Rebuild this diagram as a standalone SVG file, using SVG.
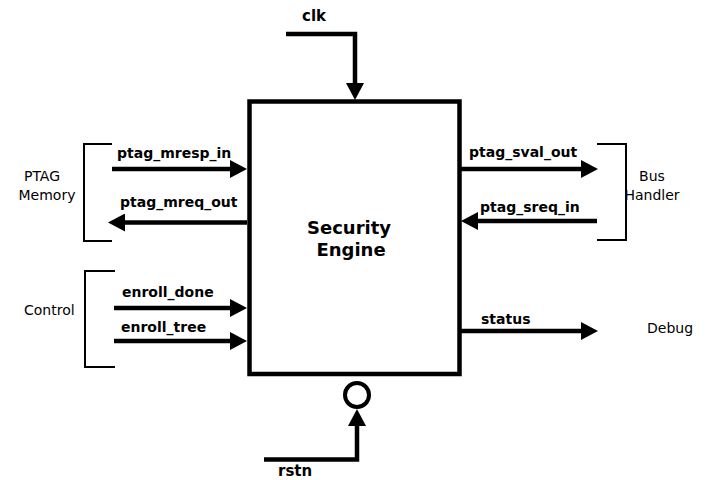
<svg xmlns="http://www.w3.org/2000/svg" width="707" height="480" viewBox="0 0 707 480">
  <style>
    .sig { font-family: "DejaVu Sans", Verdana, sans-serif; font-size: 14px; font-weight: bold; fill: #000; }
    .port { font-family: "DejaVu Sans", Verdana, sans-serif; font-size: 15px; font-weight: bold; fill: #000; }
    .grp { font-family: "DejaVu Sans", Verdana, sans-serif; font-size: 14px; fill: #000; }
    .title { font-family: "DejaVu Sans", Verdana, sans-serif; font-size: 18px; font-weight: bold; fill: #000; text-anchor: middle; }
    .wire { fill: none; stroke: #000; stroke-width: 4.5; }
    .bracket { fill: none; stroke: #000; stroke-width: 2; }
  </style>
  <defs>
    <marker id="head" markerUnits="userSpaceOnUse" markerWidth="18" markerHeight="18" refX="1" refY="9" orient="auto">
      <path d="M0,0 L17,9 L0,18 Z" fill="#000"/>
    </marker>
  </defs>

  <rect width="707" height="480" fill="#fff"/>

  <!-- main block -->
  <g id="security-engine">
    <rect x="249.5" y="101.5" width="210" height="272.5" fill="#fff" stroke="#000" stroke-width="4.5"/>
    <text class="title" x="349" y="234">Security</text>
    <text class="title" x="351" y="256">Engine</text>
  </g>

  <!-- interface groups -->
  <g id="ptag-memory">
    <path class="bracket" d="M112,144 H84 V241 H112"/>
    <text class="grp" x="42" y="181" text-anchor="middle">PTAG</text>
    <text class="grp" x="47" y="199.5" text-anchor="middle">Memory</text>
  </g>
  <g id="bus-handler">
    <path class="bracket" d="M597,144 H626 V240 H597"/>
    <text class="grp" x="652" y="181" text-anchor="middle">Bus</text>
    <text class="grp" x="652" y="199.5" text-anchor="middle">Handler</text>
  </g>
  <g id="control">
    <path class="bracket" d="M115,271 H85 V367 H115"/>
    <text class="grp" x="24" y="315">Control</text>
  </g>
  <g id="debug">
    <text class="grp" x="647" y="333">Debug</text>
  </g>

  <!-- signals -->
  <g id="connectors">
    <path class="wire" d="M286,34 H355 V84" marker-end="url(#head)"/>
    <path class="wire" d="M264,459.5 H357 V425" marker-end="url(#head)"/>
    <circle cx="357" cy="395" r="12" fill="#fff" stroke="#000" stroke-width="4"/>

    <line class="wire" x1="112" y1="169" x2="231" y2="169" marker-end="url(#head)"/>
    <line class="wire" x1="247" y1="222.5" x2="124" y2="222.5" marker-end="url(#head)"/>
    <line class="wire" x1="114" y1="308" x2="231" y2="308" marker-end="url(#head)"/>
    <line class="wire" x1="114" y1="341" x2="231" y2="341" marker-end="url(#head)"/>

    <line class="wire" x1="461" y1="169" x2="582" y2="169" marker-end="url(#head)"/>
    <line class="wire" x1="597" y1="221" x2="477" y2="221" marker-end="url(#head)"/>
    <line class="wire" x1="461" y1="331" x2="582" y2="331" marker-end="url(#head)"/>

    <text class="port" x="302" y="21">clk</text>
    <text class="port" x="278" y="476">rstn</text>
    <text class="sig" x="117" y="158">ptag_mresp_in</text>
    <text class="sig" x="120" y="207">ptag_mreq_out</text>
    <text class="sig" x="122" y="297">enroll_done</text>
    <text class="sig" x="121" y="332">enroll_tree</text>
    <text class="sig" x="469" y="157">ptag_sval_out</text>
    <text class="sig" x="480" y="212">ptag_sreq_in</text>
    <text class="sig" x="481" y="324">status</text>
  </g>
</svg>
